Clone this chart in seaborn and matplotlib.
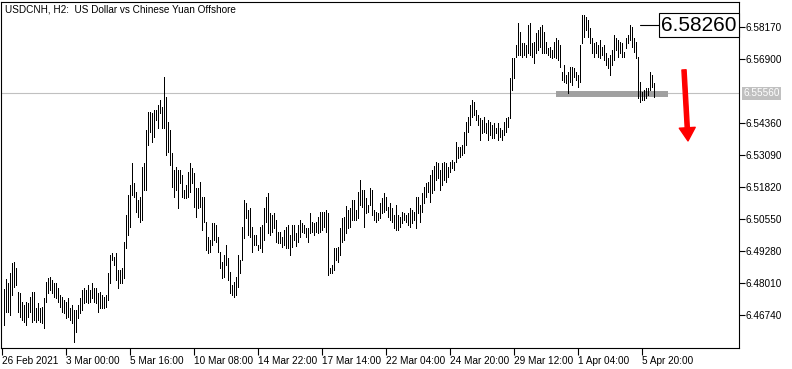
import matplotlib
matplotlib.use("Agg")
import matplotlib.pyplot as plt
import matplotlib.transforms as mtransforms
import numpy as np
import pandas as pd
import seaborn as sns

title = "USDCNH, H2:  US Dollar vs Chinese Yuan Offshore"

highs = [
    6.4778, 6.4817, 6.4801, 6.4841, 6.4881, 6.4885, 6.4861, 6.4766, 6.4762, 6.4726,
    6.4714, 6.4726, 6.4722, 6.4746, 6.4766, 6.4766, 6.4702, 6.4722, 6.4702, 6.4706,
    6.4742, 6.4805, 6.4821, 6.4825, 6.4813, 6.4801, 6.4801, 6.4782, 6.4754, 6.4746,
    6.4734, 6.4726, 6.4742, 6.4702, 6.4714, 6.4694, 6.4694, 6.4714, 6.4742, 6.4774,
    6.4782, 6.4774, 6.4794, 6.4774, 6.4801, 6.4782, 6.4782, 6.4762, 6.4766, 6.4754,
    6.4746, 6.4754, 6.4841, 6.4913, 6.4921, 6.4905, 6.4921, 6.4853, 6.4853, 6.4861,
    6.4964, 6.5072, 6.5151, 6.5191, 6.5278, 6.5198, 6.5163, 6.5131, 6.5143, 6.5262,
    6.5278, 6.5409, 6.5481, 6.5481, 6.5477, 6.5488, 6.5488, 6.5508, 6.5528, 6.5500,
    6.5619, 6.5540, 6.5441, 6.5409, 6.5318, 6.5250, 6.5262, 6.5250, 6.5250, 6.5230,
    6.5171, 6.5191, 6.5242, 6.5278, 6.5258, 6.5238, 6.5179, 6.5179, 6.5202, 6.5143,
    6.5143, 6.5044, 6.4984, 6.4972, 6.5040, 6.5040, 6.5032, 6.4984, 6.4925, 6.4885,
    6.4913, 6.4952, 6.4901, 6.4845, 6.4794, 6.4805, 6.4825, 6.4913, 6.4893, 6.5024,
    6.5131, 6.5119, 6.5091, 6.5099, 6.5024, 6.4992, 6.4992, 6.4952, 6.5024, 6.5032,
    6.5099, 6.5143, 6.5159, 6.5079, 6.5072, 6.5079, 6.5052, 6.5004, 6.5004, 6.4984,
    6.5012, 6.5024, 6.5032, 6.4992, 6.5032, 6.5032, 6.5000, 6.5032, 6.5052, 6.5040,
    6.5032, 6.5020, 6.5020, 6.5079, 6.5044, 6.5040, 6.5044, 6.5064, 6.5083, 6.5083,
    6.5083, 6.5091, 6.5079, 6.4861, 6.4873, 6.4941, 6.4941, 6.4945, 6.5020, 6.5060,
    6.5064, 6.5107, 6.5091, 6.5099, 6.5131, 6.5131, 6.5091, 6.5163, 6.5210, 6.5171,
    6.5171, 6.5139, 6.5111, 6.5179, 6.5171, 6.5091, 6.5083, 6.5079, 6.5119, 6.5139,
    6.5159, 6.5143, 6.5103, 6.5119, 6.5099, 6.5072, 6.5111, 6.5072, 6.5064, 6.5083,
    6.5079, 6.5072, 6.5079, 6.5099, 6.5091, 6.5083, 6.5143, 6.5143, 6.5111, 6.5159,
    6.5183, 6.5198, 6.5202, 6.5230, 6.5250, 6.5266, 6.5282, 6.5278, 6.5250, 6.5278,
    6.5282, 6.5278, 6.5262, 6.5282, 6.5290, 6.5282, 6.5361, 6.5341, 6.5341, 6.5349,
    6.5401, 6.5441, 6.5461, 6.5508, 6.5528, 6.5520, 6.5488, 6.5469, 6.5457, 6.5449,
    6.5461, 6.5437, 6.5449, 6.5441, 6.5429, 6.5437, 6.5417, 6.5437, 6.5417, 6.5409,
    6.5441, 6.5457, 6.5461, 6.5616, 6.5695, 6.5695, 6.5747, 6.5834, 6.5798, 6.5755,
    6.5755, 6.5747, 6.5826, 6.5834, 6.5755, 6.5759, 6.5794, 6.5806, 6.5818, 6.5826,
    6.5798, 6.5759, 6.5735, 6.5739, 6.5727, 6.5759, 6.5775, 6.5767, 6.5747, 6.5639,
    6.5667, 6.5627, 6.5639, 6.5659, 6.5659, 6.5655, 6.5639, 6.5627, 6.5747, 6.5866,
    6.5866, 6.5858, 6.5846, 6.5814, 6.5775, 6.5755, 6.5759, 6.5747, 6.5767, 6.5739,
    6.5747, 6.5715, 6.5695, 6.5707, 6.5727, 6.5786, 6.5775, 6.5767, 6.5759, 6.5755,
    6.5720, 6.5775, 6.5786, 6.5826, 6.5818, 6.5775, 6.5759, 6.5699, 6.5600, 6.5560,
    6.5568, 6.5576, 6.5576, 6.5639, 6.5627, 6.5596,
]

lows = [
    6.4635, 6.4686, 6.4686, 6.4674, 6.4754, 6.4786, 6.4794, 6.4686, 6.4667, 6.4655,
    6.4647, 6.4635, 6.4667, 6.4686, 6.4647, 6.4655, 6.4647, 6.4655, 6.4647, 6.4643,
    6.4623, 6.4726, 6.4762, 6.4774, 6.4762, 6.4746, 6.4742, 6.4726, 6.4706, 6.4686,
    6.4682, 6.4663, 6.4667, 6.4655, 6.4643, 6.4567, 6.4607, 6.4663, 6.4682, 6.4694,
    6.4722, 6.4726, 6.4722, 6.4726, 6.4742, 6.4726, 6.4722, 6.4686, 6.4702, 6.4702,
    6.4702, 6.4706, 6.4734, 6.4801, 6.4893, 6.4873, 6.4813, 6.4782, 6.4801, 6.4801,
    6.4821, 6.4941, 6.4992, 6.5024, 6.5151, 6.5143, 6.5083, 6.5064, 6.5044, 6.5052,
    6.5171, 6.5171, 6.5349, 6.5401, 6.5361, 6.5381, 6.5449, 6.5417, 6.5476, 6.5417,
    6.5417, 6.5310, 6.5322, 6.5270, 6.5183, 6.5143, 6.5171, 6.5099, 6.5198, 6.5143,
    6.5139, 6.5139, 6.5143, 6.5163, 6.5198, 6.5103, 6.5064, 6.5099, 6.5103, 6.5012,
    6.5044, 6.4933, 6.4921, 6.4925, 6.4952, 6.4972, 6.4964, 6.4925, 6.4861, 6.4821,
    6.4825, 6.4873, 6.4813, 6.4762, 6.4754, 6.4746, 6.4754, 6.4786, 6.4841, 6.4893,
    6.4980, 6.5060, 6.4992, 6.4984, 6.4925, 6.4952, 6.4952, 6.4933, 6.4941, 6.4925,
    6.4972, 6.5044, 6.5000, 6.4992, 6.5004, 6.5020, 6.4964, 6.4960, 6.4960, 6.4945,
    6.4952, 6.4941, 6.4941, 6.4913, 6.4945, 6.4972, 6.4949, 6.4964, 6.4984, 6.5004,
    6.5000, 6.4984, 6.4964, 6.5000, 6.5004, 6.4992, 6.5004, 6.5000, 6.5004, 6.5012,
    6.5024, 6.5004, 6.4833, 6.4841, 6.4841, 6.4853, 6.4893, 6.4885, 6.4913, 6.4964,
    6.4972, 6.5000, 6.5020, 6.5024, 6.5052, 6.5052, 6.5052, 6.5060, 6.5111, 6.5103,
    6.5024, 6.5079, 6.5083, 6.5111, 6.5072, 6.5052, 6.5044, 6.5052, 6.5060, 6.5079,
    6.5083, 6.5091, 6.5064, 6.5052, 6.5044, 6.5020, 6.5012, 6.5012, 6.5024, 6.5040,
    6.5052, 6.5044, 6.5032, 6.5024, 6.5040, 6.5052, 6.5020, 6.5079, 6.5044, 6.5083,
    6.5119, 6.5143, 6.5163, 6.5123, 6.5159, 6.5171, 6.5210, 6.5218, 6.5171, 6.5191,
    6.5210, 6.5202, 6.5222, 6.5242, 6.5258, 6.5250, 6.5282, 6.5298, 6.5302, 6.5310,
    6.5318, 6.5349, 6.5401, 6.5429, 6.5461, 6.5469, 6.5449, 6.5429, 6.5369, 6.5397,
    6.5401, 6.5397, 6.5369, 6.5389, 6.5377, 6.5377, 6.5397, 6.5369, 6.5381, 6.5369,
    6.5389, 6.5401, 6.5421, 6.5457, 6.5568, 6.5616, 6.5699, 6.5707, 6.5707, 6.5699,
    6.5707, 6.5699, 6.5715, 6.5707, 6.5699, 6.5675, 6.5715, 6.5727, 6.5739, 6.5715,
    6.5715, 6.5715, 6.5707, 6.5699, 6.5695, 6.5699, 6.5695, 6.5687, 6.5659, 6.5607,
    6.5600, 6.5596, 6.5556, 6.5600, 6.5588, 6.5619, 6.5607, 6.5580, 6.5600, 6.5755,
    6.5778, 6.5806, 6.5778, 6.5755, 6.5715, 6.5699, 6.5715, 6.5699, 6.5695, 6.5707,
    6.5687, 6.5667, 6.5655, 6.5627, 6.5667, 6.5687, 6.5727, 6.5699, 6.5715, 6.5699,
    6.5700, 6.5735, 6.5755, 6.5766, 6.5739, 6.5719, 6.5695, 6.5536, 6.5520, 6.5528,
    6.5528, 6.5536, 6.5548, 6.5568, 6.5580, 6.5540,
]

time_labels = ["26 Feb 2021", "3 Mar 00:00", "5 Mar 16:00", "10 Mar 08:00",
               "14 Mar 22:00", "17 Mar 14:00", "22 Mar 04:00", "24 Mar 20:00",
               "29 Mar 12:00", "1 Apr 04:00", "5 Apr 20:00"]
time_label_bars = [-1, 31, 63, 95, 127, 159, 191, 223, 255, 287, 319]
price_ticks = [6.58170, 6.56900, 6.54360, 6.53090, 6.51820,
               6.50550, 6.49280, 6.48010, 6.46740]

hline_price = 6.5556
zone_price = 6.5552
zone_bars = [276, 332]
label_price = 6.5826
label_bar = 318
arrow_from = (340, 6.5648)
arrow_to = (342, 6.5366)

# ---------------------------------------------------------------
n = len(highs)
bars = np.arange(n)
df = pd.DataFrame({
    "bar": np.concatenate([bars, bars]),
    "price": np.concatenate([lows, highs]),
})

sns.set_theme(style="white")
plt.rcParams["font.family"] = ["Liberation Sans", "DejaVu Sans"]

W, H = 792, 369
fig = plt.figure(figsize=(W / 100, H / 100), dpi=100)
fig.patch.set_facecolor("white")
ax = fig.add_axes([1 / W, 21 / H, 738 / W, 346 / H])
ax.set_facecolor("white")

ax.axhline(hline_price, color="#c0c0c0", lw=0.8, zorder=1)

sns.lineplot(data=df, x="bar", y="price", units="bar", estimator=None,
             sort=False, color="black", lw=0.72, ax=ax, legend=False,
             antialiased=False, solid_capstyle="butt", zorder=3)

ax.plot(zone_bars, [zone_price, zone_price], color="#a0a0a0", lw=4.3,
        solid_capstyle="butt", zorder=2)

ax.set_xlim(-1.5, 367.5)
ax.set_ylim(6.45442, 6.59174)

for s in ax.spines.values():
    s.set_visible(True)
    s.set_color("black")
    s.set_linewidth(0.8)

ax.yaxis.tick_right()
ax.set_yticks(price_ticks)
ax.set_yticklabels([f"{p:.5f}" for p in price_ticks])
ax.set_xticks(time_label_bars)
ax.set_xticklabels(time_labels)
for lbl in ax.get_xticklabels():
    lbl.set_ha("left")
ax.tick_params(axis="y", which="both", direction="out", length=4, width=0.8,
               labelsize=7.2, pad=1, colors="black", right=True, left=False)
ax.tick_params(axis="x", which="both", direction="out", length=5, width=0.8,
               labelsize=7.2, pad=1, colors="black", bottom=True)
ax.set_xlabel("")
ax.set_ylabel("")
ax.grid(False)

trans = mtransforms.blended_transform_factory(ax.transAxes, ax.transData)
ax.text(1.006, hline_price, f"{hline_price:.5f}", transform=trans,
        ha="left", va="center", fontsize=7.2, color="white",
        bbox=dict(boxstyle="square,pad=0.15", fc="#c0c0c0", ec="none"),
        clip_on=False, zorder=5)

ax.text(0.997, label_price, f"{label_price:.5f}", transform=trans,
        ha="right", va="center", fontsize=15, color="black",
        bbox=dict(boxstyle="square,pad=0.12", fc="white", ec="black", lw=0.8),
        zorder=6)
ax.plot([label_bar, 329.5], [label_price, label_price], color="black",
        lw=0.8, zorder=5)

ax.annotate("", xy=arrow_to, xytext=arrow_from,
            arrowprops=dict(facecolor="red", edgecolor="red", width=3,
                            headwidth=11.5, headlength=9.5, shrink=0),
            zorder=6)

fig.text(5 / W, 1 - 10 / H, title, ha="left", va="center", fontsize=7.2,
         color="black")

fig.savefig("out.png", dpi=100, facecolor="white")
